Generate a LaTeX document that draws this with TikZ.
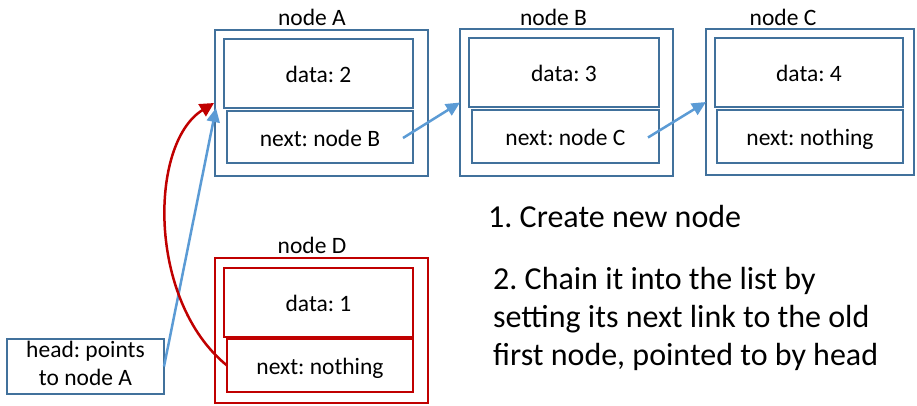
\documentclass[tikz,border=0pt]{standalone}
\usepackage{fontspec}
\setmainfont{Carlito}
\frenchspacing
\usetikzlibrary{arrows.meta,calc}
\definecolor{boxblue}{HTML}{41719C}
\definecolor{arrblue}{HTML}{5B9BD5}
\definecolor{dred}{HTML}{C00000}
\begin{document}
\frenchspacing
\begin{tikzpicture}[x=1pt,y=-1pt,
  bx/.style={draw=boxblue,line width=2.8pt,inner sep=0pt,outer sep=0pt},
  rbx/.style={bx,draw=dred},
  sz/.style 2 args={minimum width=#1pt,minimum height=#2pt},
  txt/.style={font=\fontsize{23.5}{28}\selectfont,text height=18pt,text depth=0pt},
  lbl/.style={font=\fontsize{23.5}{28}\selectfont,anchor=base,inner sep=0pt},
  big/.style={font=\fontsize{32}{38}\selectfont,anchor=base west,inner sep=0pt},
  link/.style={draw=arrblue,line width=2.5pt,-{Triangle[length=14pt,width=13pt]}},
  rlink/.style={draw=dred,line width=2.5pt,-{Triangle[length=14pt,width=14pt]}}]

\useasboundingbox (0,0) rectangle (917,405);

% node A
\node[bx,sz={213}{146}] (Aout) at (321.5,103) {};
\node[bx,txt,sz={189}{69}] (Adata) at (318.5,73.5) {data: 2};
\node[bx,txt,sz={186}{52}] (Anext) at (320,137) {next: node B};
\node[lbl] (Alab) at (312,25) {node A};

% node B
\node[bx,sz={213}{147}] (Bout) at (566.5,102.5) {};
\node[bx,txt,sz={190}{69}] (Bdata) at (564,72.5) {data: 3};
\node[bx,txt,sz={187}{53}] (Bnext) at (565.5,136.5) {next: node C};
\node[lbl] (Blab) at (553.5,25) {node B};

% node C
\node[bx,sz={208}{146}] (Cout) at (810,102) {};
\node[bx,txt,sz={188}{69}] (Cdata) at (809,72.5) {data: 4};
\node[bx,txt,sz={186}{53}] (Cnext) at (810,136.5) {next: nothing};
\node[lbl] (Clab) at (783,25) {node C};

% node D
\node[rbx,sz={213}{145}] (Dout) at (321.5,330.5) {};
\node[rbx,txt,sz={189}{69}] (Ddata) at (318.5,302.5) {data: 1};
\node[rbx,txt,sz={186}{53}] (Dnext) at (320,365.5) {next: nothing};
\node[lbl] (Dlab) at (312,253) {node D};

% head
\node[bx,sz={157}{55},align=center,font=\fontsize{23.5}{28}\selectfont,text depth=6pt] (head) at (85.5,366.5) {head: points\\to node A};

% texts
\node[big] (stepone) at (488,227) {1. Create new node};
\node[big] (steptwoa) at (493,289) {2. Chain it into the list by};
\node[big] (steptwob) at (493,327) {setting its next link to the old};
\node[big] (steptwoc) at (493,365) {first node, pointed to by head};

% links
\draw[link] ($(Anext.east)+(-10,1)$) -- (Bout.west);
\draw[link] ($(Bnext.east)+(-11,1)$) -- (Cout.west);
\draw[link] (head.east) -- ($(Aout.west)+(1,5)$);
\draw[rlink] (Dnext.west) .. controls +(-80,-65) and +(-65,40) .. ($(Aout.west)+(-1,0)$);
\end{tikzpicture}
\end{document}
